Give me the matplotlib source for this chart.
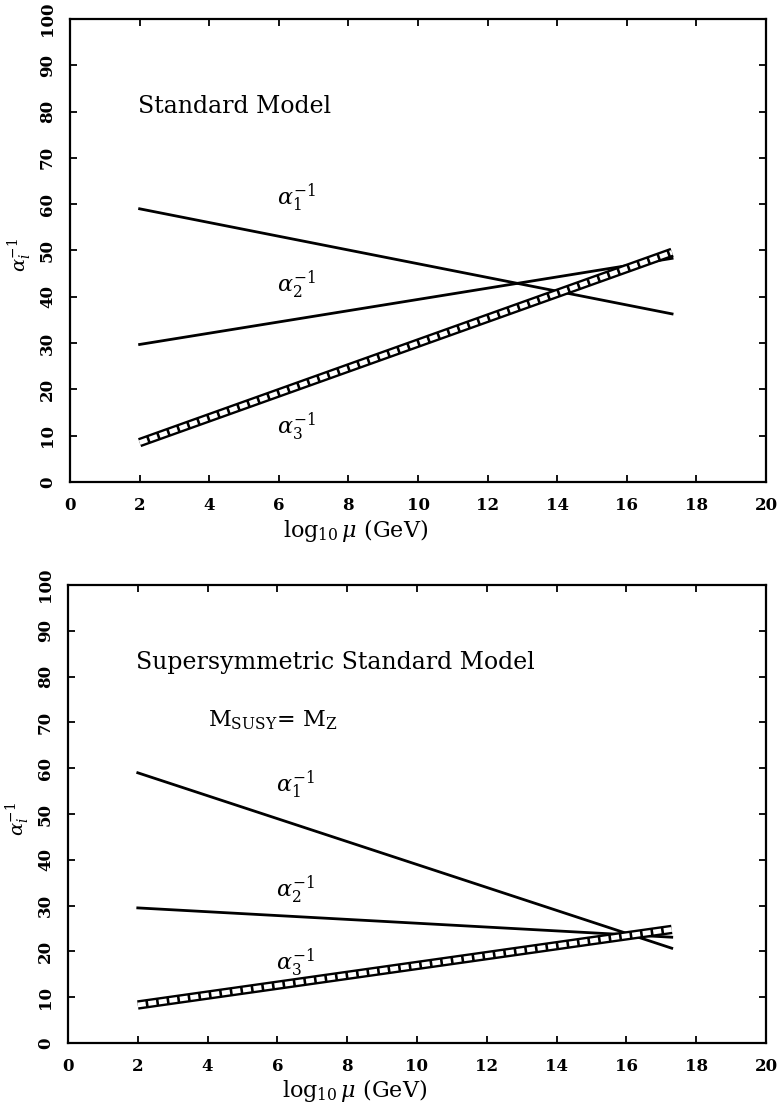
import numpy as np
import matplotlib
matplotlib.use("Agg")
import matplotlib.pyplot as plt

plt.rcParams['font.family'] = ['DejaVu Serif']
plt.rcParams['mathtext.fontset'] = 'dejavuserif'

# log10(mu) end points of the running lines
mu_log = [2.0, 17.3]

# Standard Model inverse couplings
sm_a1 = [59.0, 36.3]
sm_a2 = [29.7, 48.3]
sm_a3 = [8.5, 49.6]

# Supersymmetric Standard Model, M_SUSY = M_Z
susy_a1 = [59.0, 20.7]
susy_a2 = [29.5, 23.1]
susy_a3 = [8.3, 24.8]

x_ticks = [0, 2, 4, 6, 8, 10, 12, 14, 16, 18, 20]
y_ticks = [0, 10, 20, 30, 40, 50, 60, 70, 80, 90, 100]

fig = plt.figure(figsize=(7.84, 11.09), dpi=100)
ax1 = fig.add_axes([0.0893, 0.5654, 0.8878, 0.4175])
ax2 = fig.add_axes([0.0867, 0.0595, 0.8903, 0.4130])


def style_axes(ax):
    ax.set_xlim(0, 20)
    ax.set_ylim(0, 100)
    ax.set_xticks(x_ticks)
    ax.set_yticks(y_ticks)
    ax.tick_params(direction='in', top=True, right=True, length=5, width=1.3,
                   labelsize=12)
    ax.tick_params(axis='x', pad=11)
    ax.tick_params(axis='y', pad=10, labelrotation=90)
    for lab in ax.get_xticklabels() + ax.get_yticklabels():
        lab.set_fontweight('bold')
    for lab in ax.get_yticklabels():
        lab.set_va('center')
    for sp in ax.spines.values():
        sp.set_linewidth(1.6)
    ax.set_xlabel(r'$\log_{10}\mu$ (GeV)', fontsize=16)
    ax.xaxis.set_label_coords(0.41, -0.075)
    ax.set_ylabel(r'$\alpha_i^{-1}$', fontsize=14, labelpad=0)
    ax.yaxis.set_label_coords(-0.052, 0.49)


def band(ax, x, y):
    # alpha_3 drawn as a chain-like band
    ax.plot(x, y, color='black', lw=6.8, solid_capstyle='butt')
    ax.plot(x, y, color='white', lw=3.4, dashes=(1.7, 0.55),
            dash_capstyle='butt')


for ax in (ax1, ax2):
    style_axes(ax)

# top: Standard Model
ax1.plot(mu_log, sm_a1, color='black', lw=2.0)
ax1.plot(mu_log, sm_a2, color='black', lw=2.0)
band(ax1, mu_log, sm_a3)
ax1.text(1.95, 81, 'Standard Model', fontsize=17, va='center')
ax1.text(5.95, 61.5, r'$\alpha_1^{-1}$', fontsize=16, va='center')
ax1.text(5.95, 42.5, r'$\alpha_2^{-1}$', fontsize=16, va='center')
ax1.text(5.95, 12.0, r'$\alpha_3^{-1}$', fontsize=16, va='center')

# bottom: Supersymmetric Standard Model
ax2.plot(mu_log, susy_a1, color='black', lw=2.0)
ax2.plot(mu_log, susy_a2, color='black', lw=2.0)
band(ax2, mu_log, susy_a3)
ax2.text(1.95, 83, 'Supersymmetric Standard Model', fontsize=17, va='center')
ax2.text(4.0, 70.5, r'M$_{\mathrm{SUSY}}$= M$_{\mathrm{Z}}$', fontsize=16,
         va='center')
ax2.text(5.95, 56.5, r'$\alpha_1^{-1}$', fontsize=16, va='center')
ax2.text(5.95, 33.5, r'$\alpha_2^{-1}$', fontsize=16, va='center')
ax2.text(5.95, 17.5, r'$\alpha_3^{-1}$', fontsize=16, va='center')

fig.savefig('out.png', dpi=100)
